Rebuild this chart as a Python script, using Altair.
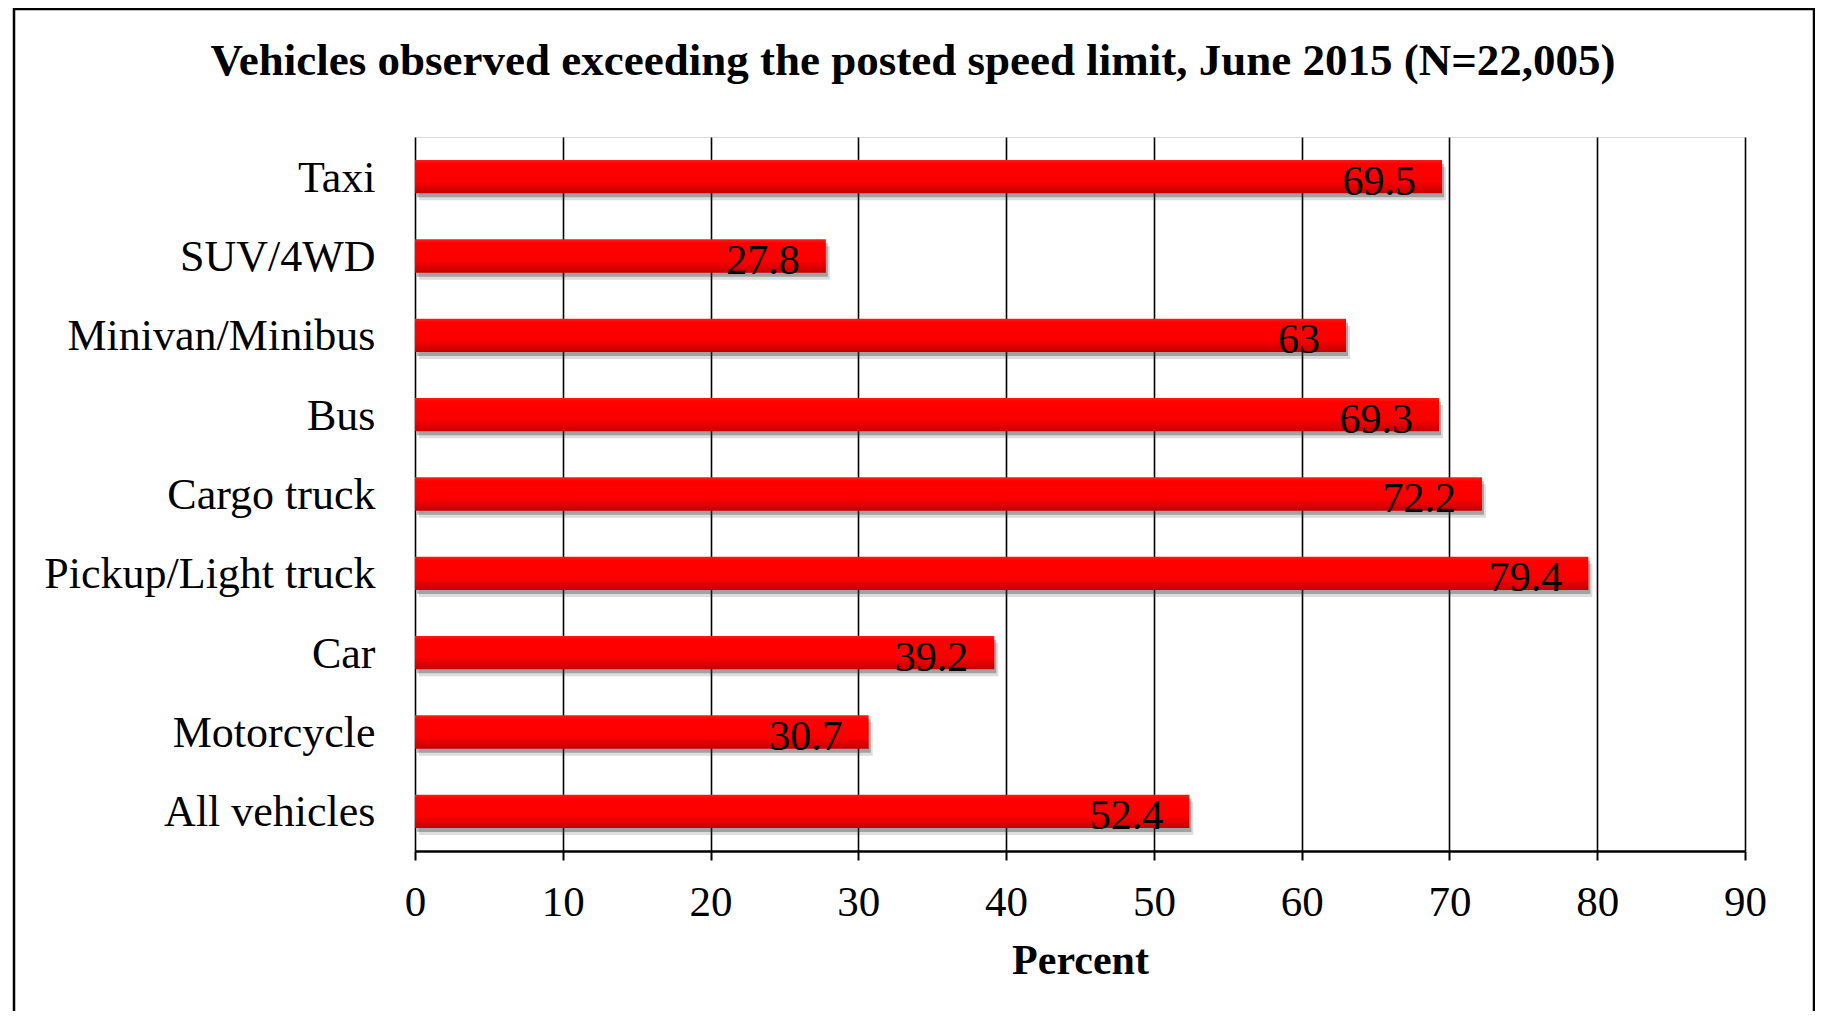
import altair as alt
import pandas as pd

categories = ["Taxi", "SUV/4WD", "Minivan/Minibus", "Bus", "Cargo truck",
              "Pickup/Light truck", "Car", "Motorcycle", "All vehicles"]
percent = [69.5, 27.8, 63, 69.3, 72.2, 79.4, 39.2, 30.7, 52.4]
labels = ["69.5", "27.8", "63", "69.3", "72.2", "79.4", "39.2", "30.7", "52.4"]
x_ticks = [0, 10, 20, 30, 40, 50, 60, 70, 80, 90]
title_text = "Vehicles observed exceeding the posted speed limit, June 2015 (N=22,005)"

df = pd.DataFrame({"category": categories, "percent": percent, "label": labels})

FONT = "Liberation Serif"
W, H = 1330, 714

y_scale = alt.Scale(paddingInner=0.58, paddingOuter=0.29)
x_scale = alt.Scale(domain=[0, 90], nice=False)

y_enc = alt.Y("category:N", sort=categories, scale=y_scale,
              axis=alt.Axis(title=None, domain=False, ticks=False, grid=False,
                            labelFont=FONT, labelFontSize=44, labelColor="black",
                            labelPadding=40, labelLimit=600, labelOffset=2))
x_enc = alt.X("percent:Q", scale=x_scale,
              axis=alt.Axis(values=x_ticks, title="Percent", titleFont=FONT,
                            titleFontSize=42, titleFontWeight="bold", titleColor="black",
                            titlePadding=16, labelFlush=False,
                            labelFont=FONT, labelFontSize=43, labelColor="black",
                            labelPadding=21, tickSize=9, tickColor="black", tickWidth=2,
                            domainColor="black", domainWidth=2.5,
                            grid=True, gridColor="black", gridWidth=1.6, gridOpacity=1))

x_plain = alt.X("percent:Q", scale=x_scale)
y_plain = alt.Y("category:N", sort=categories, scale=y_scale)

base = alt.Chart(df)

shadow1 = base.mark_bar(color="#444444", opacity=0.18, xOffset=4, yOffset=7).encode(
    x=x_enc, y=y_enc)
shadow2 = base.mark_bar(color="#333333", opacity=0.35, xOffset=2, yOffset=4).encode(
    x=x_plain, y=y_plain)

bars = base.mark_bar(
    color=alt.Gradient(gradient="linear", x1=0, x2=0, y1=0, y2=1,
                       stops=[alt.GradientStop(offset=0, color="#ff1a1a"),
                              alt.GradientStop(offset=0.12, color="#ff0000"),
                              alt.GradientStop(offset=0.65, color="#fb0000"),
                              alt.GradientStop(offset=1, color="#c40000")])
).encode(x=x_plain, y=y_plain)

text = base.mark_text(align="right", baseline="middle", dx=-26, dy=5,
                      font=FONT, fontSize=42, color="black").encode(
    x=x_plain, y=y_plain, text="label:N")

title = alt.Chart(pd.DataFrame({"t": [title_text]})).mark_text(
    font=FONT, fontSize=45, fontWeight="bold", color="black",
    align="center", baseline="middle").encode(
    text="t:N", x=alt.value(498), y=alt.value(-76))

frame = alt.Chart(pd.DataFrame({"k": [0]})).mark_rect(
    filled=False, stroke="black", strokeWidth=2.5).encode(
    x=alt.value(-401), x2=alt.value(1399), y=alt.value(-128), y2=alt.value(900))

chart = alt.layer(shadow1, shadow2, bars, text, title, frame).properties(
    width=W, height=H,
    autosize=alt.AutoSizeParams(type="none"),
    padding={"left": 407, "top": 129, "right": 70, "bottom": 160},
).configure_view(stroke=None).configure(background="white")

chart.save("out.html", embed_options={"renderer": "svg", "actions": False})
